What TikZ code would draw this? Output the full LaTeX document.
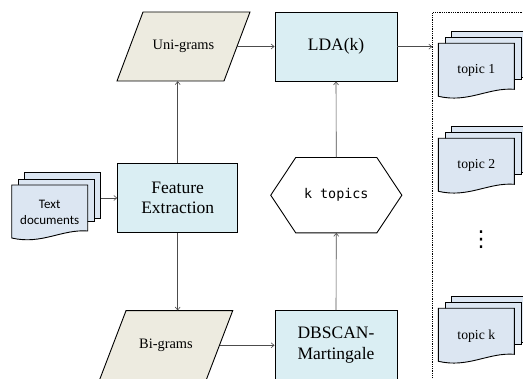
\documentclass[tikz,border=0pt]{standalone}
\usepackage{fontspec}
\setmainfont{Liberation Serif}
\newfontfamily\calibfont{Carlito}
\newfontfamily\monofont{DejaVu Sans Mono}
\newfontfamily\symfont{DejaVu Sans}
\usetikzlibrary{arrows.meta}
\definecolor{parafill}{HTML}{EDEBE0}
\definecolor{boxfill}{HTML}{DAEEF3}
\definecolor{docfill}{HTML}{DCE6F2}
\tikzset{
 conn/.style={draw=black!70, line width=0.6pt, -{Straight Barb[length=3pt,width=5pt]}},
 procbox/.style={draw, line width=0.9pt, fill=boxfill, inner sep=0pt, align=center, font=\rmfamily\fontsize{17.5}{20.5}\selectfont},
 parashape/.style={draw, line width=0.9pt, fill=parafill, line join=miter},
 paralabel/.style={inner sep=0pt, font=\rmfamily\fontsize{14.4}{17}\selectfont},
 docshape/.style={draw, line width=0.9pt, fill=docfill},
}
\newcommand\mdoc[5]{%
 \begin{scope}[shift={(#2,#3)}]
  \node[docshape, anchor=north west, minimum width=76pt, minimum height=46pt, inner sep=0pt] (#1-b) at (12.6,-12.6) {};
  \node[docshape, anchor=north west, minimum width=76pt, minimum height=42.5pt, inner sep=0pt] (#1-m) at (6.3,-6.3) {};
  \draw[docshape] (0,0) -- (76,0) -- (76,46) .. controls (50,44) and (30,60) .. (0,53) -- cycle;
  \node[font=#4, align=center, inner sep=0pt] (#1) at (38,27.5) {#5};
 \end{scope}}
\begin{document}
\begin{tikzpicture}[x=1pt,y=-1pt]
\useasboundingbox (0,0) rectangle (523,379);
% topics container
\node[draw, densely dotted, line width=0.8pt, anchor=north west, minimum width=130pt, minimum height=400pt, inner sep=0pt] (tbox) at (432.3,12.3) {};
% text documents
\mdoc{docs}{11.7}{185}{\calibfont\fontsize{13}{16}\selectfont}{Text\\documents}
% feature extraction
\node[procbox, minimum width=120pt, minimum height=69.4pt] (fe) at (177.7,198) {Feature\\Extraction};
% uni-grams
\draw[parashape] (143,12) -- (250,12) -- (224,81) -- (117,81) -- cycle;
\node[paralabel, minimum width=133pt, minimum height=69pt] (uni) at (183.5,46.5) {Uni-grams};
\coordinate (uniR) at (237,46.5);
% bi-grams
\draw[parashape] (126,310.7) -- (232.7,310.7) -- (206.2,380) -- (99.5,380) -- cycle;
\node[paralabel, minimum width=133.2pt, minimum height=69.3pt] (bi) at (166,345.3) {Bi-grams};
\coordinate (biR) at (219.5,345.3);
% LDA
\node[procbox, minimum width=122pt, minimum height=68.7pt] (lda) at (336,46.7) {LDA(k)};
% DBSCAN
\node[procbox, minimum width=122pt, minimum height=69.3pt] (db) at (336,345.3) {DBSCAN-\\Martingale};
% k topics
\node[inner sep=0pt, minimum width=130.7pt, minimum height=75pt, font=\monofont\fontsize{13.4}{15}\selectfont] (kt) at (336.3,195.2) {k topics};
\draw[line width=0.9pt] (kt.west) -- ([xshift=25pt]kt.north west) -- ([xshift=-25pt]kt.north east) -- (kt.east) -- ([xshift=-25pt]kt.south east) -- ([xshift=25pt]kt.south west) -- cycle;
% topic documents
\mdoc{t1}{438.3}{43.3}{\rmfamily\fontsize{13.7}{16}\selectfont}{topic 1}
\mdoc{t2}{438.3}{138.3}{\rmfamily\fontsize{13.7}{16}\selectfont}{topic 2}
\mdoc{tk}{438.3}{308.3}{\rmfamily\fontsize{13.7}{16}\selectfont}{topic k}
\node[inner sep=0pt, font=\symfont\fontsize{22}{24}\selectfont] (dots) at (481,240) {⋮};
% connectors
\draw[conn] (docs-b.east |- fe.west) -- (fe.west);
\draw[conn] (fe.north) -- (fe.north |- uni.south);
\draw[conn] (fe.south) -- (fe.south |- bi.north);
\draw[conn] (uniR) -- (uniR -| lda.west);
\draw[conn] (biR) -- (biR -| db.west);
\draw[conn] (db.north) -- (kt.south);
\draw[conn] (kt.north) -- (lda.south);
\draw[conn] (lda.east) -- (lda.east -| tbox.west);
\end{tikzpicture}
\end{document}
